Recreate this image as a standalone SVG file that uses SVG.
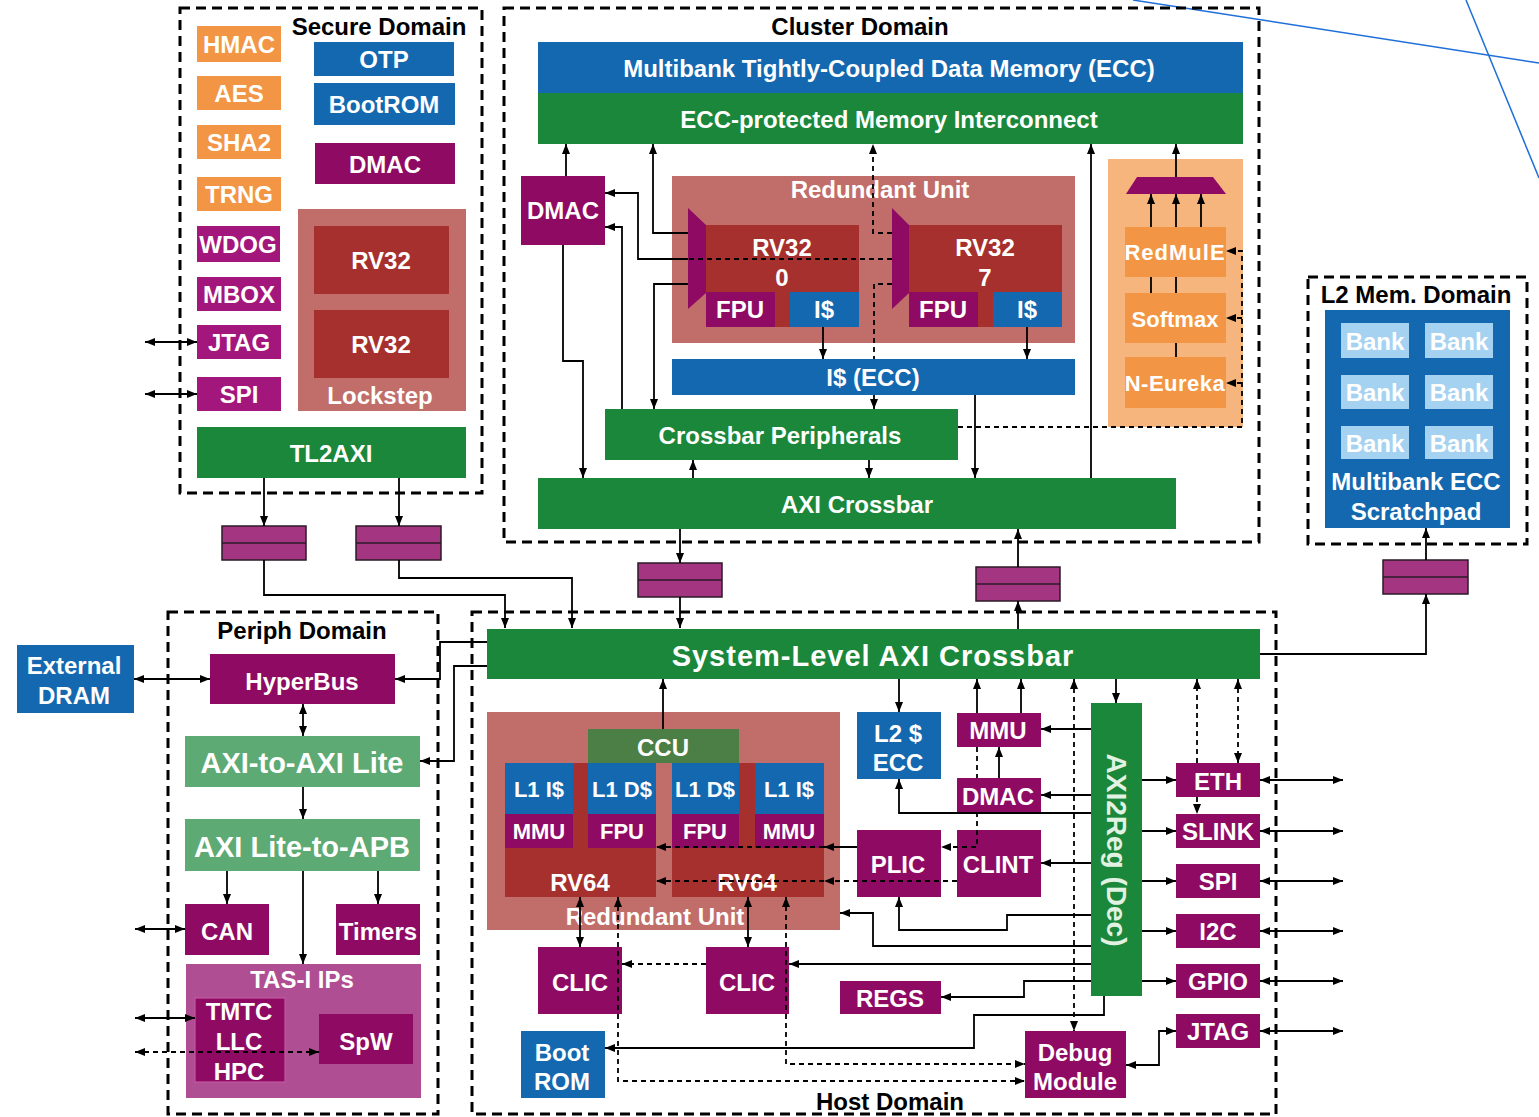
<svg xmlns="http://www.w3.org/2000/svg" width="1539" height="1117" viewBox="0 0 1539 1117">
<style>
.t{font-family:"Liberation Sans",Arial,sans-serif;font-weight:bold;font-size:24px;fill:#fff;text-anchor:middle;dominant-baseline:central}
.k{fill:#000}
.s{font-size:22px}
.dom{fill:none;stroke:#000;stroke-width:3;stroke-dasharray:10 6}
.c{fill:none;stroke:#000;stroke-width:1.8}
.d{stroke-dasharray:5 4}
.mg{fill:#8F0A63}.mg2{fill:#A3167B}.or{fill:#F29544}.bl{fill:#1468AF}.gr{fill:#1A873A}
.lg{fill:#5DAA74}.dr{fill:#A6302D}.sa{fill:#C16D69}.ob{fill:#F6B57D}.cc{fill:#4B7F45}
.bk{fill:#A6D2F1}.ta{fill:#B04E93}.rg{fill:#A43681;stroke:#2B1A28;stroke-width:1.5}
</style>
<defs>
<marker id="ar" viewBox="0 0 10 8" refX="10" refY="4" markerWidth="10" markerHeight="8" markerUnits="userSpaceOnUse" orient="auto-start-reverse"><path d="M0,0 L10,4 L0,8 z" fill="#000"/></marker>
</defs>
<rect width="1539" height="1117" fill="#fff"/>
<line x1="1133" y1="0" x2="1539" y2="63" stroke="#1E6FD9" stroke-width="1.5"/>
<line x1="1466" y1="0" x2="1539" y2="178" stroke="#1E6FD9" stroke-width="1.5"/>

<g id="domains">
<rect class="dom" x="180" y="8" width="302" height="485"/>
<rect class="dom" x="504" y="8" width="755" height="534"/>
<rect class="dom" x="1308" y="277" width="219" height="267"/>
<rect class="dom" x="168" y="612" width="270" height="502"/>
<rect class="dom" x="472" y="612" width="804" height="502"/>
<text class="t k" x="379" y="26">Secure Domain</text>
<text class="t k" x="860" y="26">Cluster Domain</text>
<text class="t k" x="1416" y="294">L2 Mem. Domain</text>
<text class="t k" x="302" y="630">Periph Domain</text>
<text class="t k" x="890" y="1101">Host Domain</text>
</g>

<g id="secure">
<g id="hmac"><rect class="or" x="197" y="26" width="84" height="36"/><text class="t" x="239" y="44">HMAC</text></g>
<g id="aes"><rect class="or" x="197" y="76" width="84" height="34"/><text class="t" x="239" y="93">AES</text></g>
<g id="sha2"><rect class="or" x="197" y="125" width="84" height="34"/><text class="t" x="239" y="142">SHA2</text></g>
<g id="trng"><rect class="or" x="197" y="177" width="84" height="34"/><text class="t" x="239" y="194">TRNG</text></g>
<g id="wdog"><rect class="mg2" x="197" y="226" width="83" height="36"/><text class="t" x="238" y="244">WDOG</text></g>
<g id="mbox"><rect class="mg2" x="197" y="277" width="84" height="34"/><text class="t" x="239" y="294">MBOX</text></g>
<g id="sjtag"><rect class="mg2" x="197" y="325" width="84" height="34"/><text class="t" x="239" y="342">JTAG</text></g>
<g id="sspi"><rect class="mg2" x="197" y="377" width="84" height="34"/><text class="t" x="239" y="394">SPI</text></g>
<g id="otp"><rect class="bl" x="314" y="42" width="140" height="34"/><text class="t" x="384" y="59">OTP</text></g>
<g id="bootrom"><rect class="bl" x="314" y="83" width="141" height="42"/><text class="t" x="384" y="104">BootROM</text></g>
<g id="sdmac"><rect class="mg" x="315" y="143" width="140" height="41"/><text class="t" x="385" y="164">DMAC</text></g>
<g id="lockstep"><rect class="sa" x="298" y="209" width="168" height="202"/>
<rect class="dr" x="314" y="226" width="135" height="68"/><text class="t" x="381" y="260">RV32</text>
<rect class="dr" x="314" y="310" width="135" height="68"/><text class="t" x="381" y="344">RV32</text>
<text class="t" x="380" y="395">Lockstep</text></g>
<g id="tl2axi"><rect class="gr" x="197" y="427" width="269" height="51"/><text class="t" x="331" y="453">TL2AXI</text></g>
</g>

<g id="regs-pipe">
<g id="pr1"><rect class="rg" x="222" y="526" width="84" height="34"/><line x1="222" y1="543" x2="306" y2="543" stroke="#2B1A28" stroke-width="1.5"/></g>
<g id="pr2"><rect class="rg" x="356" y="526" width="85" height="34"/><line x1="356" y1="543" x2="441" y2="543" stroke="#2B1A28" stroke-width="1.5"/></g>
<g id="pr3"><rect class="rg" x="638" y="563" width="84" height="34"/><line x1="638" y1="580" x2="722" y2="580" stroke="#2B1A28" stroke-width="1.5"/></g>
<g id="pr4"><rect class="rg" x="976" y="567" width="84" height="34"/><line x1="976" y1="584" x2="1060" y2="584" stroke="#2B1A28" stroke-width="1.5"/></g>
<g id="pr5"><rect class="rg" x="1383" y="560" width="85" height="34"/><line x1="1383" y1="577" x2="1468" y2="577" stroke="#2B1A28" stroke-width="1.5"/></g>
</g>

<g id="cluster">
<g id="tcdm"><rect class="bl" x="538" y="42" width="705" height="51"/><text class="t" x="889" y="68">Multibank Tightly-Coupled Data Memory (ECC)</text></g>
<g id="eccic"><rect class="gr" x="538" y="93" width="705" height="51"/><text class="t" x="889" y="119">ECC-protected Memory Interconnect</text></g>
<g id="cdmac"><rect class="mg" x="521" y="176" width="84" height="69"/><text class="t" x="563" y="210">DMAC</text></g>
<g id="redunit"><rect class="sa" x="672" y="176" width="403" height="167"/><text class="t" x="880" y="189">Redundant Unit</text>
<polygon class="mg" points="688,208 706,225 706,293 688,309"/>
<rect class="dr" x="706" y="225" width="153" height="102"/><text class="t" x="782" y="247">RV32</text><text class="t" x="782" y="277">0</text>
<rect class="mg" x="706" y="292" width="69" height="35"/><text class="t" x="740" y="309">FPU</text>
<rect class="bl" x="790" y="292" width="69" height="35"/><text class="t" x="824" y="309">I$</text>
<polygon class="mg" points="892,208 909,225 909,293 892,309"/>
<rect class="dr" x="909" y="225" width="153" height="102"/><text class="t" x="985" y="247">RV32</text><text class="t" x="985" y="277">7</text>
<rect class="mg" x="909" y="292" width="69" height="35"/><text class="t" x="943" y="309">FPU</text>
<rect class="bl" x="993" y="292" width="69" height="35"/><text class="t" x="1027" y="309">I$</text></g>
<g id="icache"><rect class="bl" x="672" y="359" width="403" height="36"/><text class="t" x="873" y="377">I$ (ECC)</text></g>
<g id="xbarp"><rect class="gr" x="605" y="409" width="353" height="51"/><text class="t" x="780" y="435">Crossbar Peripherals</text></g>
<g id="axixbar"><rect class="gr" x="538" y="478" width="638" height="51"/><text class="t" x="857" y="504">AXI Crossbar</text></g>
<g id="accel"><rect class="ob" x="1108" y="159" width="135" height="268"/>
<polygon class="mg" points="1137,177 1213,177 1226,194 1126,194"/>
<rect class="or" x="1125" y="227" width="101" height="50"/><text class="t s" x="1175" y="252" letter-spacing="1">RedMulE</text>
<rect class="or" x="1125" y="293" width="101" height="50"/><text class="t s" x="1175" y="319">Softmax</text>
<rect class="or" x="1125" y="357" width="101" height="51"/><text class="t s" x="1175" y="383" letter-spacing="0.5">N-Eureka</text></g>
</g>

<g id="l2mem"><rect class="bl" x="1325" y="310" width="185" height="218"/>
<rect class="bk" x="1341" y="323" width="68" height="35"/><text class="t" x="1375" y="341">Bank</text>
<rect class="bk" x="1425" y="323" width="68" height="35"/><text class="t" x="1459" y="341">Bank</text>
<rect class="bk" x="1341" y="375" width="68" height="34"/><text class="t" x="1375" y="392">Bank</text>
<rect class="bk" x="1425" y="375" width="68" height="34"/><text class="t" x="1459" y="392">Bank</text>
<rect class="bk" x="1341" y="426" width="68" height="33"/><text class="t" x="1375" y="443">Bank</text>
<rect class="bk" x="1425" y="426" width="68" height="33"/><text class="t" x="1459" y="443">Bank</text>
<text class="t" x="1416" y="481">Multibank ECC</text><text class="t" x="1416" y="511">Scratchpad</text></g>

<g id="periph">
<g id="extdram"><rect class="bl" x="17" y="645" width="117" height="68"/><text class="t" x="74" y="665">External</text><text class="t" x="74" y="695">DRAM</text></g>
<g id="hyperbus"><rect class="mg" x="210" y="654" width="185" height="50"/><text class="t" x="302" y="681">HyperBus</text></g>
<g id="axi2lite"><rect class="lg" x="185" y="736" width="235" height="51"/><text class="t" x="302" y="763" style="font-size:29px">AXI-to-AXI Lite</text></g>
<g id="lite2apb"><rect class="lg" x="185" y="819" width="235" height="52"/><text class="t" x="302" y="847" style="font-size:29px">AXI Lite-to-APB</text></g>
<g id="can"><rect class="mg" x="185" y="904" width="84" height="51"/><text class="t" x="227" y="931">CAN</text></g>
<g id="timers"><rect class="mg" x="336" y="904" width="84" height="51"/><text class="t" x="378" y="931">Timers</text></g>
<g id="tasi"><rect class="ta" x="186" y="964" width="235" height="134"/><text class="t" x="302" y="979" fill="#F6E1EF">TAS-I IPs</text>
<rect x="195" y="998" width="90" height="84" fill="#8F0A63" stroke="#C257A2" stroke-width="1.2"/>
<text class="t" x="239" y="1011">TMTC</text><text class="t" x="239" y="1041">LLC</text><text class="t" x="239" y="1071">HPC</text>
<rect class="mg" x="319" y="1014" width="94" height="50"/><text class="t" x="366" y="1041">SpW</text></g>
</g>

<g id="host">
<g id="sysxbar"><rect class="gr" x="487" y="629" width="773" height="50"/><text class="t" x="873" y="656" style="font-size:29px" letter-spacing="1">System-Level AXI Crossbar</text></g>
<g id="hredunit"><rect class="sa" x="487" y="712" width="353" height="218"/>
<rect class="dr" x="505" y="763" width="151" height="134"/>
<rect class="dr" x="672" y="763" width="152" height="134"/>
<rect class="cc" x="588" y="729" width="151" height="34"/><text class="t" x="663" y="747">CCU</text>
<rect class="bl" x="505" y="763" width="68" height="51"/><text class="t s" x="539" y="789">L1 I$</text>
<rect class="bl" x="588" y="763" width="68" height="51"/><text class="t s" x="622" y="789">L1 D$</text>
<rect class="bl" x="672" y="763" width="67" height="51"/><text class="t s" x="705" y="789">L1 D$</text>
<rect class="bl" x="755" y="763" width="69" height="51"/><text class="t s" x="789" y="789">L1 I$</text>
<rect class="mg" x="505" y="814" width="68" height="34"/><text class="t s" x="539" y="831">MMU</text>
<rect class="mg" x="588" y="814" width="68" height="34"/><text class="t s" x="622" y="831">FPU</text>
<rect class="mg" x="672" y="814" width="67" height="34"/><text class="t s" x="705" y="831">FPU</text>
<rect class="mg" x="755" y="814" width="69" height="34"/><text class="t s" x="789" y="831">MMU</text>
<text class="t" x="580" y="882">RV64</text><text class="t" x="747" y="882">RV64</text>
<text class="t" x="655" y="916">Redundant Unit</text></g>
<g id="clic0"><rect class="mg" x="538" y="947" width="84" height="67"/><text class="t" x="580" y="982">CLIC</text></g>
<g id="clic1"><rect class="mg" x="706" y="947" width="83" height="67"/><text class="t" x="747" y="982">CLIC</text></g>
<g id="hbootrom"><rect class="bl" x="521" y="1031" width="84" height="67"/><text class="t" x="562" y="1052">Boot</text><text class="t" x="562" y="1081">ROM</text></g>
<g id="l2cache"><rect class="bl" x="857" y="712" width="84" height="67"/><text class="t" x="898" y="733">L2 $</text><text class="t" x="898" y="762">ECC</text></g>
<g id="hmmu"><rect class="mg" x="957" y="713" width="84" height="34"/><text class="t" x="998" y="730">MMU</text></g>
<g id="hdmac"><rect class="mg" x="957" y="778" width="84" height="34"/><text class="t" x="998" y="796">DMAC</text></g>
<g id="plic"><rect class="mg" x="857" y="830" width="84" height="67"/><text class="t" x="898" y="864">PLIC</text></g>
<g id="clint"><rect class="mg" x="957" y="830" width="84" height="67"/><text class="t" x="998" y="864">CLINT</text></g>
<g id="hregs"><rect class="mg" x="840" y="981" width="101" height="33"/><text class="t" x="890" y="998">REGS</text></g>
<g id="debug"><rect class="mg" x="1025" y="1031" width="101" height="67"/><text class="t" x="1075" y="1052">Debug</text><text class="t" x="1075" y="1081">Module</text></g>
<g id="axi2reg"><rect class="gr" x="1091" y="703" width="51" height="293"/><text class="t" transform="translate(1116,850) rotate(90)" style="font-size:28px;fill:#E2F2E2">AXI2Reg (Dec)</text></g>
<g id="eth"><rect class="mg" x="1176" y="763" width="84" height="34"/><text class="t" x="1218" y="781">ETH</text></g>
<g id="slink"><rect class="mg" x="1176" y="814" width="84" height="34"/><text class="t" x="1218" y="831">SLINK</text></g>
<g id="hspi"><rect class="mg" x="1176" y="864" width="84" height="34"/><text class="t" x="1218" y="881">SPI</text></g>
<g id="i2c"><rect class="mg" x="1176" y="914" width="84" height="34"/><text class="t" x="1218" y="931">I2C</text></g>
<g id="gpio"><rect class="mg" x="1176" y="964" width="84" height="34"/><text class="t" x="1218" y="981">GPIO</text></g>
<g id="hjtag"><rect class="mg" x="1176" y="1014" width="84" height="34"/><text class="t" x="1218" y="1031">JTAG</text></g>
</g>

<g id="connectors">
<path class="c" d="M145,342 H197" marker-start="url(#ar)" marker-end="url(#ar)"/>
<path class="c" d="M145,394 H197" marker-start="url(#ar)" marker-end="url(#ar)"/>
<path class="c" d="M264,478 V526" marker-end="url(#ar)"/>
<path class="c" d="M399,478 V526" marker-end="url(#ar)"/>
<path class="c" d="M264,560 V595 H505 V628" marker-end="url(#ar)"/>
<path class="c" d="M399,560 V578 H572 V628" marker-end="url(#ar)"/>
<path class="c" d="M566,176 V144" marker-end="url(#ar)"/>
<path class="c" d="M688,233 H653 V144" marker-end="url(#ar)"/>
<path class="c" d="M688,284 H654 V409" marker-end="url(#ar)"/>
<path class="c" d="M688,259 H638 V193 H605" marker-end="url(#ar)"/>
<path class="c d" d="M892,259 H688"/>
<path class="c" d="M622,409 V227 H605" marker-end="url(#ar)"/>
<path class="c" d="M563,245 V361 H583 V478" marker-end="url(#ar)"/>
<path class="c d" d="M892,233 H873 V144" marker-end="url(#ar)"/>
<path class="c d" d="M892,284 H874 V359"/>
<path class="c d" d="M874,395 V409" marker-end="url(#ar)"/>
<path class="c" d="M823,327 V359" marker-end="url(#ar)"/>
<path class="c" d="M1027,327 V359" marker-end="url(#ar)"/>
<path class="c" d="M975,395 V478" marker-end="url(#ar)"/>
<path class="c" d="M1091,478 V144" marker-end="url(#ar)"/>
<path class="c" d="M693,478 V460" marker-end="url(#ar)"/>
<path class="c" d="M869,460 V478" marker-end="url(#ar)"/>
<path class="c" d="M1176,177 V144" marker-end="url(#ar)"/>
<path class="c" d="M1151,227 V194" marker-end="url(#ar)"/>
<path class="c" d="M1176,227 V194" marker-end="url(#ar)"/>
<path class="c" d="M1201,227 V194" marker-end="url(#ar)"/>
<path class="c" d="M1151,277 V293 M1176,277 V293 M1176,343 V357"/>
<path class="c d" d="M958,427 H1242 V251 H1226" marker-end="url(#ar)"/>
<path class="c d" d="M1242,318 H1226" marker-end="url(#ar)"/>
<path class="c d" d="M1242,383 H1226" marker-end="url(#ar)"/>
<path class="c" d="M680,529 V563" marker-end="url(#ar)"/>
<path class="c" d="M680,597 V628" marker-end="url(#ar)"/>
<path class="c" d="M1018,567 V529" marker-end="url(#ar)"/>
<path class="c" d="M1018,629 V601" marker-end="url(#ar)"/>
<path class="c" d="M1260,654 H1426 V594" marker-end="url(#ar)"/>
<path class="c" d="M1426,560 V528" marker-end="url(#ar)"/>
<path class="c" d="M134,679 H210" marker-start="url(#ar)" marker-end="url(#ar)"/>
<path class="c" d="M487,642 H440 V679 H395" marker-end="url(#ar)"/>
<path class="c" d="M487,666 H454 V761 H420" marker-end="url(#ar)"/>
<path class="c" d="M303,704 V736" marker-start="url(#ar)" marker-end="url(#ar)"/>
<path class="c" d="M303,787 V819" marker-end="url(#ar)"/>
<path class="c" d="M227,871 V904" marker-end="url(#ar)"/>
<path class="c" d="M378,871 V904" marker-end="url(#ar)"/>
<path class="c" d="M303,871 V964" marker-end="url(#ar)"/>
<path class="c" d="M135,929 H185" marker-start="url(#ar)" marker-end="url(#ar)"/>
<path class="c" d="M135,1018 H195" marker-start="url(#ar)" marker-end="url(#ar)"/>
<path class="c d" d="M135,1052 H319" marker-start="url(#ar)" marker-end="url(#ar)"/>
<path class="c" d="M663,729 V679" marker-end="url(#ar)"/>
<path class="c" d="M899,679 V712" marker-end="url(#ar)"/>
<path class="c" d="M977,713 V679" marker-end="url(#ar)"/>
<path class="c" d="M1021,713 V679" marker-end="url(#ar)"/>
<path class="c" d="M1116,679 V703" marker-end="url(#ar)"/>
<path class="c d" d="M1074,679 V1031" marker-start="url(#ar)" marker-end="url(#ar)"/>
<path class="c d" d="M1197,763 V679" marker-end="url(#ar)"/>
<path class="c d" d="M1197,797 V814" marker-end="url(#ar)"/>
<path class="c d" d="M1238,679 V763" marker-start="url(#ar)" marker-end="url(#ar)"/>
<path class="c" d="M1091,729 H1041" marker-end="url(#ar)"/>
<path class="c" d="M999,778 V747" marker-end="url(#ar)"/>
<path class="c" d="M1091,795 H1041" marker-end="url(#ar)"/>
<path class="c" d="M1091,813 H899 V779" marker-end="url(#ar)"/>
<path class="c d" d="M977,747 V778"/>
<path class="c d" d="M977,812 V847 H941" marker-end="url(#ar)"/>
<path class="c" d="M1091,863 H1041" marker-end="url(#ar)"/>
<path class="c" d="M857,847 H824" marker-end="url(#ar)"/>
<path class="c d" d="M824,847 H656" marker-end="url(#ar)"/>
<path class="c d" d="M957,881 H824" marker-end="url(#ar)"/>
<path class="c d" d="M824,881 H656" marker-end="url(#ar)"/>
<path class="c" d="M1091,915 H1007 V930 H899 V897" marker-end="url(#ar)"/>
<path class="c" d="M1091,946 H873 V913 H840" marker-end="url(#ar)"/>
<path class="c" d="M1091,964 H789" marker-end="url(#ar)"/>
<path class="c d" d="M706,964 H622" marker-end="url(#ar)"/>
<path class="c" d="M1091,981 H1024 V997 H941" marker-end="url(#ar)"/>
<path class="c" d="M1104,996 V1015 H974 V1048 H605" marker-end="url(#ar)"/>
<path class="c" d="M580,897 V947" marker-start="url(#ar)" marker-end="url(#ar)"/>
<path class="c" d="M748,897 V947" marker-start="url(#ar)" marker-end="url(#ar)"/>
<path class="c d" d="M618,897 V1081 H1025" marker-start="url(#ar)" marker-end="url(#ar)"/>
<path class="c d" d="M786,897 V1064 H1025" marker-start="url(#ar)" marker-end="url(#ar)"/>
<path class="c" d="M1126,1065 H1159 V1031 H1176" marker-start="url(#ar)" marker-end="url(#ar)"/>
<path class="c" d="M1142,780 H1176" marker-end="url(#ar)"/>
<path class="c" d="M1142,831 H1176" marker-end="url(#ar)"/>
<path class="c" d="M1142,881 H1176" marker-end="url(#ar)"/>
<path class="c" d="M1142,931 H1176" marker-end="url(#ar)"/>
<path class="c" d="M1142,981 H1176" marker-end="url(#ar)"/>
<path class="c" d="M1260,780 H1343" marker-start="url(#ar)" marker-end="url(#ar)"/>
<path class="c" d="M1260,831 H1343" marker-start="url(#ar)" marker-end="url(#ar)"/>
<path class="c" d="M1260,881 H1343" marker-start="url(#ar)" marker-end="url(#ar)"/>
<path class="c" d="M1260,931 H1343" marker-start="url(#ar)" marker-end="url(#ar)"/>
<path class="c" d="M1260,981 H1343" marker-start="url(#ar)" marker-end="url(#ar)"/>
<path class="c" d="M1260,1031 H1343" marker-start="url(#ar)" marker-end="url(#ar)"/>
</g>
</svg>
